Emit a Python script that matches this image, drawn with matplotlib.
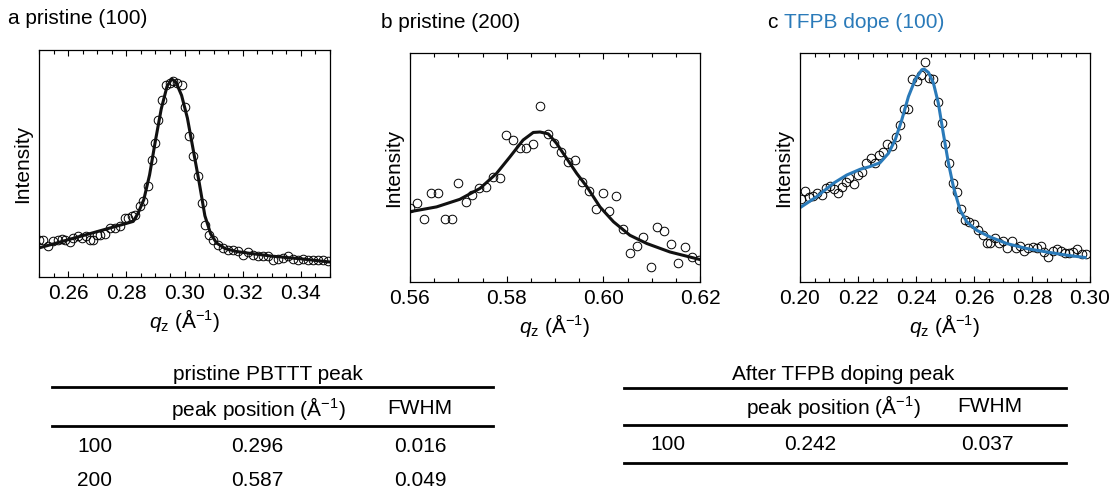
'''
GIWAXS out-of-plane peak fits for pristine and TFPB-doped PBTTT.
'''
import matplotlib
matplotlib.use("Agg")
import matplotlib.pyplot as plt
from matplotlib.lines import Line2D
from matplotlib.ticker import MultipleLocator

plt.rcParams["font.family"] = ["Liberation Sans", "DejaVu Sans"]
plt.rcParams["mathtext.fontset"] = "custom"
plt.rcParams["mathtext.rm"] = "Liberation Sans"
plt.rcParams["mathtext.it"] = "Liberation Sans:italic"

BLUE = "#2a7ab9"
FS = 15

# panel a: pristine (100), points and fit
a_q = [0.2500, 0.2515, 0.2532, 0.2549, 0.2566, 0.2578, 0.2589, 0.2607, 0.2618, 0.2635,
       0.2647, 0.2662, 0.2675, 0.2687, 0.2698, 0.2710, 0.2727, 0.2744, 0.2761, 0.2778,
       0.2796, 0.2807, 0.2818, 0.2830, 0.2847, 0.2859, 0.2876, 0.2887, 0.2899, 0.2910,
       0.2922, 0.2936, 0.2950, 0.2962, 0.2973, 0.2990, 0.3002, 0.3017, 0.3030, 0.3045,
       0.3059, 0.3070, 0.3085, 0.3099, 0.3116, 0.3133, 0.3150, 0.3168, 0.3185, 0.3202,
       0.3219, 0.3236, 0.3253, 0.3271, 0.3288, 0.3305, 0.3322, 0.3340, 0.3357, 0.3374,
       0.3391, 0.3408, 0.3426, 0.3443, 0.3460, 0.3477, 0.3494]
a_i = [16.4, 16.1, 13.8, 15.7, 16.1, 16.7, 16.1, 15.2, 17.4, 17.9,
       17.2, 18.2, 16.4, 16.1, 18.6, 18.6, 18.9, 21.6, 21.8, 22.6,
       26.0, 26.0, 26.7, 27.4, 31.4, 33.3, 39.9, 51.6, 58.9, 69.2,
       78.0, 84.6, 85.6, 86.5, 85.6, 84.6, 74.8, 62.2, 53.4, 44.3,
       32.6, 23.0, 18.6, 16.1, 14.2, 12.8, 11.7, 12.0, 11.3, 9.8,
       10.9, 9.8, 9.4, 9.1, 9.1, 7.6, 7.9, 8.4, 9.1, 7.9,
       7.6, 7.9, 7.6, 7.3, 7.6, 7.3, 6.9]
a_fit_q = [0.250, 0.260, 0.270, 0.280, 0.2824, 0.284, 0.286, 0.288, 0.290, 0.292, 0.294,
           0.2956, 0.297, 0.299, 0.301, 0.303, 0.305, 0.307, 0.309, 0.311, 0.314,
           0.318, 0.322, 0.330, 0.340, 0.350]
a_fit_i = [12.8, 16.4, 20.0, 23.6, 24.5, 28.0, 34.0, 45.0, 60.0, 74.0, 84.0,
           87.2, 86.0, 80.0, 70.0, 56.0, 42.0, 27.0, 19.0, 15.0, 12.5,
           11.2, 10.5, 9.2, 8.0, 6.6]

# panel b: pristine (200)
b_q = [0.5600, 0.5615, 0.5630, 0.5643, 0.5658, 0.5672, 0.5686, 0.5700, 0.5715, 0.5729,
       0.5742, 0.5757, 0.5771, 0.5786, 0.5799, 0.5814, 0.5828, 0.5841, 0.5855, 0.5870,
       0.5885, 0.5898, 0.5912, 0.5926, 0.5941, 0.5955, 0.5970, 0.5984, 0.5999, 0.6012,
       0.6026, 0.6040, 0.6055, 0.6069, 0.6083, 0.6098, 0.6112, 0.6126, 0.6140, 0.6154,
       0.6168, 0.6183, 0.6197]
b_i = [32.1, 34.3, 27.3, 39.0, 38.7, 27.4, 27.7, 43.4, 35.0, 38.0,
       40.9, 41.6, 46.0, 45.5, 64.1, 61.8, 58.7, 58.7, 60.3, 76.9,
       64.7, 60.6, 56.8, 52.3, 53.3, 43.5, 39.9, 31.7, 39.0, 30.9,
       37.7, 23.2, 12.8, 15.8, 19.7, 6.6, 24.1, 22.3, 16.4, 8.3,
       15.2, 10.9, 9.8]
b_fit_q = [0.5600, 0.5655, 0.5703, 0.5745, 0.5779, 0.5807, 0.5834, 0.5855, 0.5869, 0.5886,
           0.5903, 0.5924, 0.5945, 0.5966, 0.5993, 0.6021, 0.6055, 0.6090, 0.6138, 0.6200]
b_fit_i = [30.7, 32.8, 36.1, 40.9, 47.4, 54.7, 62.0, 65.3, 65.5, 64.7,
           60.6, 54.0, 47.4, 41.6, 32.8, 26.3, 20.4, 16.8, 13.1, 9.8]

# panel c: TFPB doped (100)
c_q = [0.2002, 0.2017, 0.2032, 0.2046, 0.2060, 0.2075, 0.2089, 0.2103, 0.2117, 0.2132,
       0.2145, 0.2159, 0.2170, 0.2187, 0.2199, 0.2213, 0.2228, 0.2244, 0.2259, 0.2272,
       0.2287, 0.2301, 0.2316, 0.2331, 0.2345, 0.2359, 0.2371, 0.2385, 0.2402, 0.2416,
       0.2430, 0.2444, 0.2460, 0.2475, 0.2489, 0.2501, 0.2515, 0.2529, 0.2543, 0.2555,
       0.2569, 0.2584, 0.2600, 0.2615, 0.2630, 0.2644, 0.2655, 0.2672, 0.2687, 0.2701,
       0.2715, 0.2730, 0.2745, 0.2759, 0.2772, 0.2787, 0.2802, 0.2816, 0.2830, 0.2841,
       0.2856, 0.2871, 0.2885, 0.2899, 0.2914, 0.2929, 0.2943, 0.2956, 0.2971, 0.2986]
c_i = [36.4, 39.9, 36.9, 37.5, 38.7, 38.0, 40.9, 42.0, 40.4, 39.0,
       41.3, 43.8, 45.3, 42.8, 46.7, 48.2, 52.1, 54.0, 51.8, 55.5,
       56.9, 60.3, 59.4, 63.5, 68.6, 75.5, 75.5, 88.6, 87.6, 90.5,
       96.2, 89.1, 88.6, 78.8, 69.6, 60.3, 51.8, 43.4, 39.4, 31.7,
       27.0, 26.3, 25.3, 22.6, 20.4, 17.2, 17.2, 19.4, 17.2, 18.0,
       15.0, 18.0, 15.0, 15.8, 13.6, 15.0, 15.3, 15.0, 15.6, 13.1,
       10.9, 13.6, 14.2, 13.6, 12.7, 12.7, 13.1, 14.2, 12.4, 12.1]
c_fit_q = [0.2002, 0.2057, 0.2115, 0.2161, 0.2207, 0.2241, 0.2276, 0.2305, 0.2328, 0.2351,
           0.2374, 0.2397, 0.2420, 0.2428, 0.2443, 0.2460, 0.2477, 0.2494, 0.2512, 0.2529,
           0.2552, 0.2575, 0.2609, 0.2655, 0.2713, 0.2782, 0.2851, 0.2920, 0.2983]
c_fit_i = [32.6, 37.2, 43.1, 46.7, 49.2, 50.4, 52.1, 56.2, 62.0, 70.8,
           81.0, 88.3, 92.7, 93.0, 91.5, 86.9, 78.1, 65.0, 51.8, 41.6,
           31.4, 26.3, 22.6, 19.7, 16.8, 14.6, 13.1, 11.7, 10.7]

# tables
t1_title = "pristine PBTTT peak"
t2_title = "After TFPB doping peak"
col_headers = ["peak position (Å$^{\\mathregular{-1}}$)", "FWHM"]
t1_rows = [["100", "0.296", "0.016"], ["200", "0.587", "0.049"]]
t2_rows = [["100", "0.242", "0.037"]]

W, H = 1120, 497
fig = plt.figure(figsize=(W / 100, H / 100), dpi=100)


def fx(px):
  return px / W


def fy(py):
  return 1 - py / H


def make_axes(left, top, right, bottom):
  return fig.add_axes([fx(left), fy(bottom), fx(right - left), (bottom - top) / H])


def style(ax, xlim):
  ax.set_xlim(*xlim)
  ax.set_ylim(0, 100)
  ax.xaxis.set_major_locator(MultipleLocator(0.02))
  ax.xaxis.set_minor_locator(MultipleLocator(0.005))
  ax.xaxis.set_major_formatter(matplotlib.ticker.FormatStrFormatter("%.2f"))
  ax.tick_params(axis="x", which="both", direction="in", top=True, labelsize=FS, pad=5)
  ax.tick_params(axis="x", which="major", length=4, width=0.8)
  ax.tick_params(axis="x", which="minor", length=3, width=0.8)
  ax.set_yticks([])
  for sp in ax.spines.values():
    sp.set_linewidth(0.9)
  ax.set_xlabel(r"$q_{\mathregular{z}}$ (Å$^{\mathregular{-1}}$)", fontsize=FS, labelpad=3)
  ax.set_ylabel("Intensity", fontsize=FS, labelpad=5)


marker_kw = dict(marker="o", ms=6.2, mfc="none", mec="black", mew=0.7, ls="none")

ax_a = make_axes(39, 50, 330, 277)
ax_a.plot(a_q, a_i, **marker_kw)
ax_a.plot(a_fit_q, a_fit_i, color="#111111", lw=2.2)
style(ax_a, (0.25, 0.35))

ax_b = make_axes(410, 53, 700, 282)
ax_b.plot(b_q, b_i, **marker_kw)
ax_b.plot(b_fit_q, b_fit_i, color="#111111", lw=2.2)
style(ax_b, (0.56, 0.62))

ax_c = make_axes(800, 53, 1090, 282)
ax_c.plot(c_q, c_i, **marker_kw)
ax_c.plot(c_fit_q, c_fit_i, color=BLUE, lw=2.2)
style(ax_c, (0.20, 0.30))

# panel titles
fig.text(fx(8), fy(19), "a pristine (100)", fontsize=FS, va="center", ha="left")
fig.text(fx(381), fy(22), "b pristine (200)", fontsize=FS, va="center", ha="left")
fig.text(fx(768), fy(22), "c ", fontsize=FS, va="center", ha="left")
fig.text(fx(784), fy(22), "TFPB dope (100)", fontsize=FS, va="center", ha="left", color=BLUE)


def draw_table(title, title_x, x0, x1, line_ys, header_y, header_xs, row_ys, col_xs, rows):
  fig.text(fx(title_x), fy(374), title, fontsize=FS, ha="center", va="center")
  for y in line_ys:
    fig.add_artist(Line2D([fx(x0), fx(x1)], [fy(y), fy(y)], color="black", lw=2.0))
  for hx, label in zip(header_xs, col_headers):
    fig.text(fx(hx), fy(header_y), label, fontsize=FS, ha="center", va="center")
  for ry, row in zip(row_ys, rows):
    for cx, cell in zip(col_xs, row):
      fig.text(fx(cx), fy(ry), cell, fontsize=FS, ha="center", va="center")


draw_table(t1_title, 268, 52, 493, [387, 426], 408, [258, 420], [447, 480], [95, 257, 420], t1_rows)
draw_table(t2_title, 843, 624, 1066, [388, 425, 463], 407, [833, 990], [445], [668, 810, 987], t2_rows)

fig.savefig("out.png", dpi=100)
